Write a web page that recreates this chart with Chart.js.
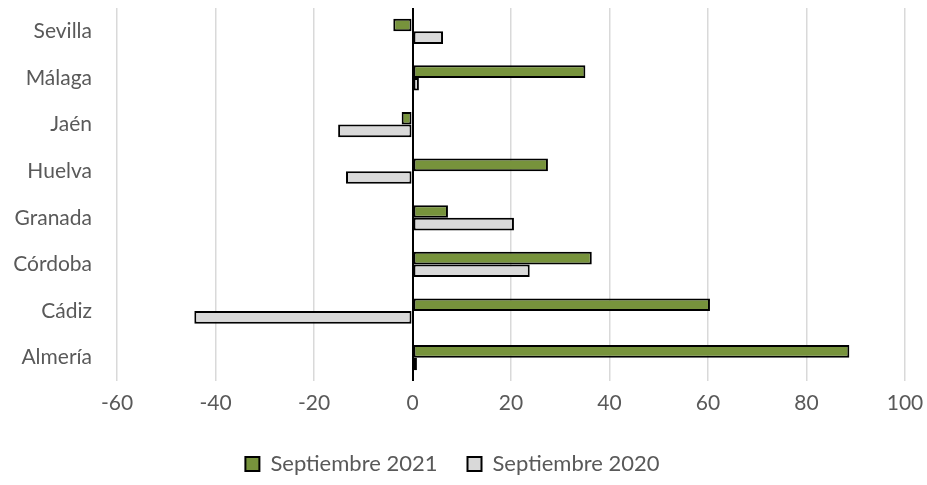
<!DOCTYPE html>
<html>
<head>
<meta charset="utf-8">
<script src="https://cdn.jsdelivr.net/npm/chart.js@4.4.1/dist/chart.umd.min.js"></script>
<style>
  html, body { margin: 0; padding: 0; background: #fff; }
  #wrap { width: 927px; height: 485px; position: relative; }
</style>
</head>
<body>
<div id="wrap"><canvas id="provChart"></canvas></div>
<script>
const provincias = ['Sevilla', 'Málaga', 'Jaén', 'Huelva', 'Granada', 'Córdoba', 'Cádiz', 'Almería'];
const sept2021 = [-3.9, 35.1, -2.2, 27.5, 7.2, 36.4, 60.4, 88.7];
const sept2020 = [6.2, 1.3, -15.1, -13.5, 20.6, 23.8, -44.3, 0.9];
const xMin = -60, xMax = 100, xStep = 20;

const fontFamily = "Lato, sans-serif";
const textColor = '#595959';

const ctx = document.getElementById('provChart').getContext('2d');

new Chart(ctx, {
  type: 'bar',
  data: {
    labels: provincias,
    datasets: [
      {
        label: 'Septiembre 2021',
        data: sept2021,
        backgroundColor: '#77933c',
        borderColor: '#000',
        borderWidth: 2,
        borderSkipped: false
      },
      {
        label: 'Septiembre 2020',
        data: sept2020,
        backgroundColor: '#d9d9d9',
        borderColor: '#000',
        borderWidth: 2,
        borderSkipped: false
      }
    ]
  },
  options: {
    indexAxis: 'y',
    responsive: true,
    maintainAspectRatio: false,
    animation: false,
    datasets: {
      bar: { categoryPercentage: 0.54, barPercentage: 1 }
    },
    layout: { padding: { top: 8, right: 22, left: 0, bottom: 0 } },
    plugins: {
      legend: {
        position: 'bottom',
        labels: {
          color: textColor,
          font: { family: fontFamily, size: 22 },
          boxWidth: 14,
          boxHeight: 14,
          padding: 30
        }
      },
      tooltip: { enabled: false }
    },
    scales: {
      x: {
        min: xMin,
        max: xMax,
        ticks: {
          stepSize: xStep,
          color: textColor,
          font: { family: fontFamily, size: 21 },
          padding: 10
        },
        grid: {
          drawTicks: false,
          color: function (c) { return c.tick && c.tick.value === 0 ? '#000' : '#d9d9d9'; },
          lineWidth: function (c) { return c.tick && c.tick.value === 0 ? 2 : 1.5; }
        },
        border: { display: false },
        afterFit: function (scale) {
          scale.height = 42;
          scale.paddingLeft = 0;
          scale.paddingRight = 0;
        }
      },
      y: {
        ticks: {
          color: textColor,
          font: { family: fontFamily, size: 21 },
          padding: 25
        },
        grid: { display: false, drawTicks: false },
        border: { display: false },
        afterFit: function (scale) {
          scale.width = 117;
          scale.paddingTop = 0;
          scale.paddingBottom = 0;
        }
      }
    }
  }
});
</script>
</body>
</html>
